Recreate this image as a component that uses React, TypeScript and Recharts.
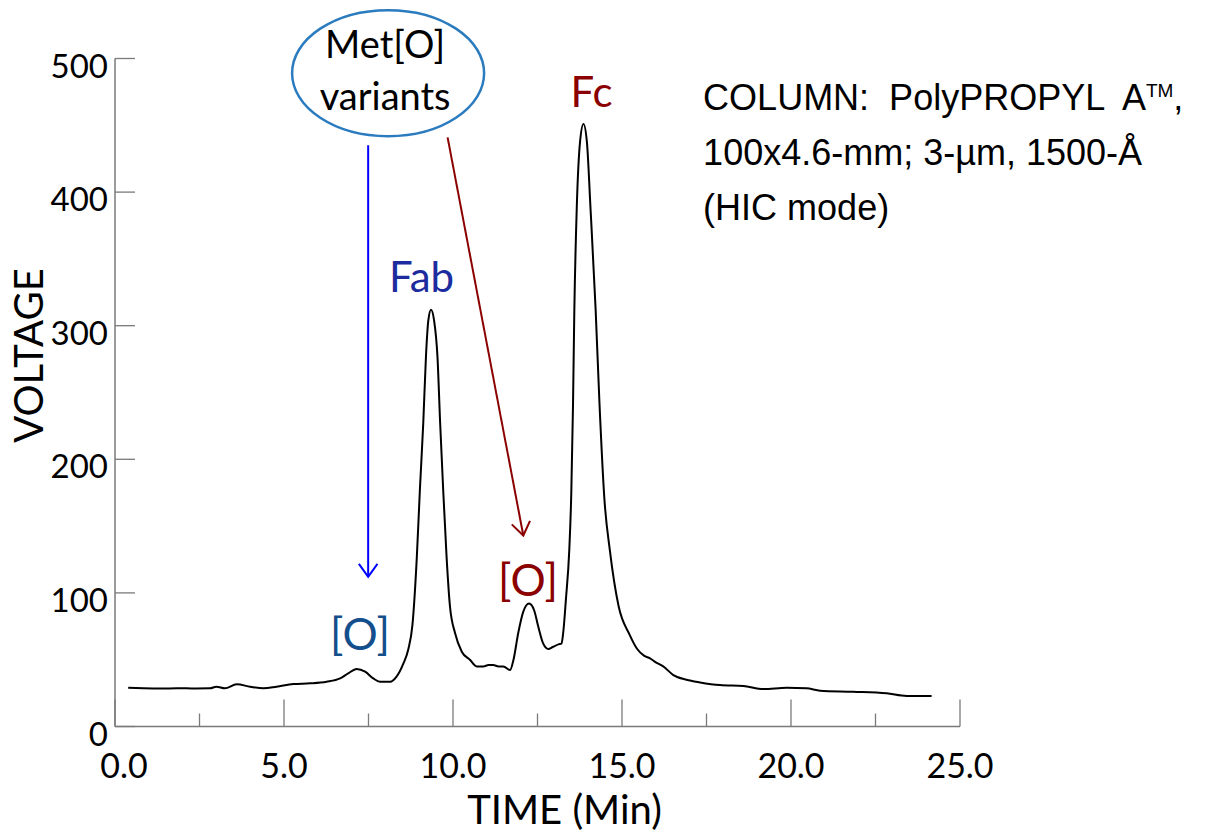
import { LineChart, Line, XAxis, YAxis, ReferenceDot, ReferenceLine } from "recharts";

// HIC chromatogram trace
const TIME = [
  0.39, 0.84, 1.4, 1.82, 2.4, 2.81, 3.0, 3.25, 3.6, 4.0, 4.39, 4.78, 5.28, 5.77, 6.26,
  6.66, 6.9, 7.15, 7.4, 7.64, 7.84, 8.14, 8.33, 8.53, 8.68, 8.8, 8.93, 9.02, 9.12, 9.2,
  9.27, 9.35, 9.44, 9.54, 9.62, 9.71, 9.81, 9.91, 10.06, 10.26, 10.5, 10.7, 10.9, 11.05,
  11.19, 11.35, 11.49, 11.69, 11.79, 11.93, 12.08, 12.25, 12.4, 12.52, 12.67, 12.82,
  12.95, 13.12, 13.21, 13.26, 13.34, 13.44, 13.5, 13.55, 13.59, 13.66, 13.76, 13.86,
  13.96, 14.07, 14.22, 14.33, 14.48, 14.64, 14.9, 15.22, 15.45, 15.65, 15.83, 16.0,
  16.22, 16.52, 16.91, 17.31, 17.9, 18.59, 19.18, 19.87, 20.46, 20.86, 21.84, 22.83,
  23.42, 24.16,
];
const VOLTAGE = [
  29, 28.6, 28.4, 28.6, 28.5, 28.6, 29.8, 28.6, 31.6, 29.8, 28.6, 29.8, 31.8, 32.3, 33.5,
  36, 39.8, 43, 41, 36, 33.5, 33.5, 37.3, 47, 58, 76, 127, 177, 227, 277,
  304, 312, 304, 277, 227, 177, 127, 90, 70, 56, 50, 45, 45, 46,
  46, 45, 45, 42.3, 50, 70, 86, 92, 87, 75, 62, 58,
  59.5, 61.5, 62, 70, 95, 132, 175, 240, 312, 387, 438, 451,
  438, 387, 312, 244, 170, 132, 90, 69, 58, 53, 51, 48,
  45, 38.5, 35, 33, 31, 30.3, 28, 29, 28.6, 26.8, 26, 24.8,
  22.8, 22.8,
];

const X_TICKS = [0, 2.5, 5, 7.5, 10, 12.5, 15, 17.5, 20, 22.5, 25];
const Y_TICKS = [0, 100, 200, 300, 400, 500];

const PEAK_LABELS = [
  { text: "[O]", time: 7.25, volt: 57, color: "#134f8c", size: 44 },
  { text: "Fab", time: 9.07, volt: 325, color: "#1c2c9e", size: 42 },
  { text: "[O]", time: 12.22, volt: 98, color: "#8b0000", size: 44 },
  { text: "Fc", time: 14.1, volt: 464, color: "#8b0000", size: 42 },
];

const COLUMN_LINES = ["100x4.6-mm; 3-\u00b5m, 1500-\u00c5", "(HIC mode)"];

const data = TIME.map((t, i) => ({ time: t, voltage: VOLTAGE[i] }));

const AXIS = "#7a7a7a";
const SANS = "Lato, 'Open Sans', sans-serif";
const ARIAL = "'Liberation Sans', Arial, sans-serif";
const BLUE = "#0000ff";
const RED = "#8b0000";

function YTick(props: any) {
  const { x, y, payload } = props;
  return (
    <g>
      <line x1={x} y1={y} x2={x + 20} y2={y} stroke={AXIS} strokeWidth={1.3} />
      <text x={x - 7} y={y + 19} textAnchor="end" fontFamily={SANS} fontSize={33} fill="#000">
        {payload.value}
      </text>
    </g>
  );
}

function XTick(props: any) {
  const { x, y, payload } = props;
  const major = payload.value % 5 === 0;
  // the first label sits a little right of the corner in the original
  const shift = payload.value === 0 ? 9 : 0;
  return (
    <g>
      <line x1={x} y1={y} x2={x} y2={y - (major ? 27 : 13)} stroke={AXIS} strokeWidth={1.3} />
      {major && (
        <text x={x + shift} y={y + 51} textAnchor="middle" fontFamily={SANS} fontSize={34} fill="#000">
          {payload.value.toFixed(1)}
        </text>
      )}
    </g>
  );
}

function Arrow(props: any) {
  const { x1, y1, x2, y2, color } = props;
  const a = Math.atan2(y2 - y1, x2 - x1);
  const len = 16;
  const spread = 0.62;
  const h1 = [x2 - len * Math.cos(a - spread), y2 - len * Math.sin(a - spread)];
  const h2 = [x2 - len * Math.cos(a + spread), y2 - len * Math.sin(a + spread)];
  return (
    <g stroke={color} strokeWidth={2} fill="none">
      <line x1={x1} y1={y1} x2={x2} y2={y2} />
      <polyline points={`${h1[0]},${h1[1]} ${x2},${y2} ${h2[0]},${h2[1]}`} />
    </g>
  );
}

export default function App() {
  return (
    <div style={{ position: "absolute", left: 0, top: 0, background: "#fff" }}>
      <LineChart width={1218} height={836} data={data} margin={{ top: 58.5, right: 258, bottom: 0, left: 0 }}>
        <XAxis
          dataKey="time"
          type="number"
          domain={[0, 25]}
          ticks={X_TICKS}
          interval={0}
          height={109.5}
          tickSize={0}
          tickMargin={0}
          tickLine={false}
          axisLine={{ stroke: AXIS, strokeWidth: 1.5 }}
          tick={<XTick />}
          label={(p: any) => {
            const vb = p.viewBox;
            return (
              <text x={vb.x + vb.width / 2 + 27} y={vb.y + 97} textAnchor="middle" fontFamily={SANS} fontSize={40} fill="#000">
                TIME (Min)
              </text>
            );
          }}
        />
        <YAxis
          type="number"
          domain={[0, 500]}
          ticks={Y_TICKS}
          interval={0}
          width={115}
          tickSize={0}
          tickMargin={0}
          tickLine={false}
          axisLine={{ stroke: AXIS, strokeWidth: 1.5 }}
          tick={<YTick />}
          label={(p: any) => {
            const vb = p.viewBox;
            const cx = vb.x + 43;
            const cy = vb.y + vb.height / 2 - 37;
            return (
              <text x={cx} y={cy} transform={`rotate(-90 ${cx} ${cy})`} textAnchor="middle" fontFamily={SANS} fontSize={40} fill="#000">
                VOLTAGE
              </text>
            );
          }}
        />

        <ReferenceLine
          segment={[{ x: 7.49, y: 435 }, { x: 7.49, y: 112 }]}
          shape={(p: any) => <Arrow {...p} color={BLUE} />}
        />
        <ReferenceLine
          segment={[{ x: 9.84, y: 441 }, { x: 12.08, y: 143 }]}
          shape={(p: any) => <Arrow {...p} color={RED} />}
        />

        <ReferenceDot
          x={8.08}
          y={489}
          ifOverflow="visible"
          shape={(p: any) => (
            <g>
              <ellipse cx={p.cx} cy={p.cy} rx={96} ry={63} fill="none" stroke="#2b7bbf" strokeWidth={2.5} />
              <text x={p.cx - 3} y={p.cy - 15} textAnchor="middle" fontFamily={SANS} fontSize={38} fill="#000">
                Met[O]
              </text>
              <text x={p.cx - 3} y={p.cy + 37} textAnchor="middle" fontFamily={SANS} fontSize={38} fill="#000">
                variants
              </text>
            </g>
          )}
        />

        {PEAK_LABELS.map((l, i) => (
          <ReferenceDot
            key={i}
            x={l.time}
            y={l.volt}
            ifOverflow="visible"
            shape={(p: any) => (
              <text x={p.cx} y={p.cy} textAnchor="middle" fontFamily={SANS} fontSize={l.size} fill={l.color}>
                {l.text}
              </text>
            )}
          />
        ))}

        <ReferenceDot
          x={17.4}
          y={461.5}
          ifOverflow="visible"
          shape={(p: any) => (
            <g fontFamily={ARIAL} fontSize={36} fill="#000">
              <text x={p.cx} y={p.cy} style={{ whiteSpace: "pre" }}>
                {"COLUMN:  PolyPROPYL  A"}
                <tspan fontSize={19} dy={-13}>TM</tspan>
                <tspan dy={13}>,</tspan>
              </text>
              {COLUMN_LINES.map((s, i) => (
                <text key={i} x={p.cx} y={p.cy + (i + 1) * 55} style={{ whiteSpace: "pre" }}>
                  {s}
                </text>
              ))}
            </g>
          )}
        />

        <Line
          type="monotone"
          dataKey="voltage"
          stroke="#000"
          strokeWidth={2}
          dot={false}
          isAnimationActive={false}
        />
      </LineChart>
    </div>
  );
}
